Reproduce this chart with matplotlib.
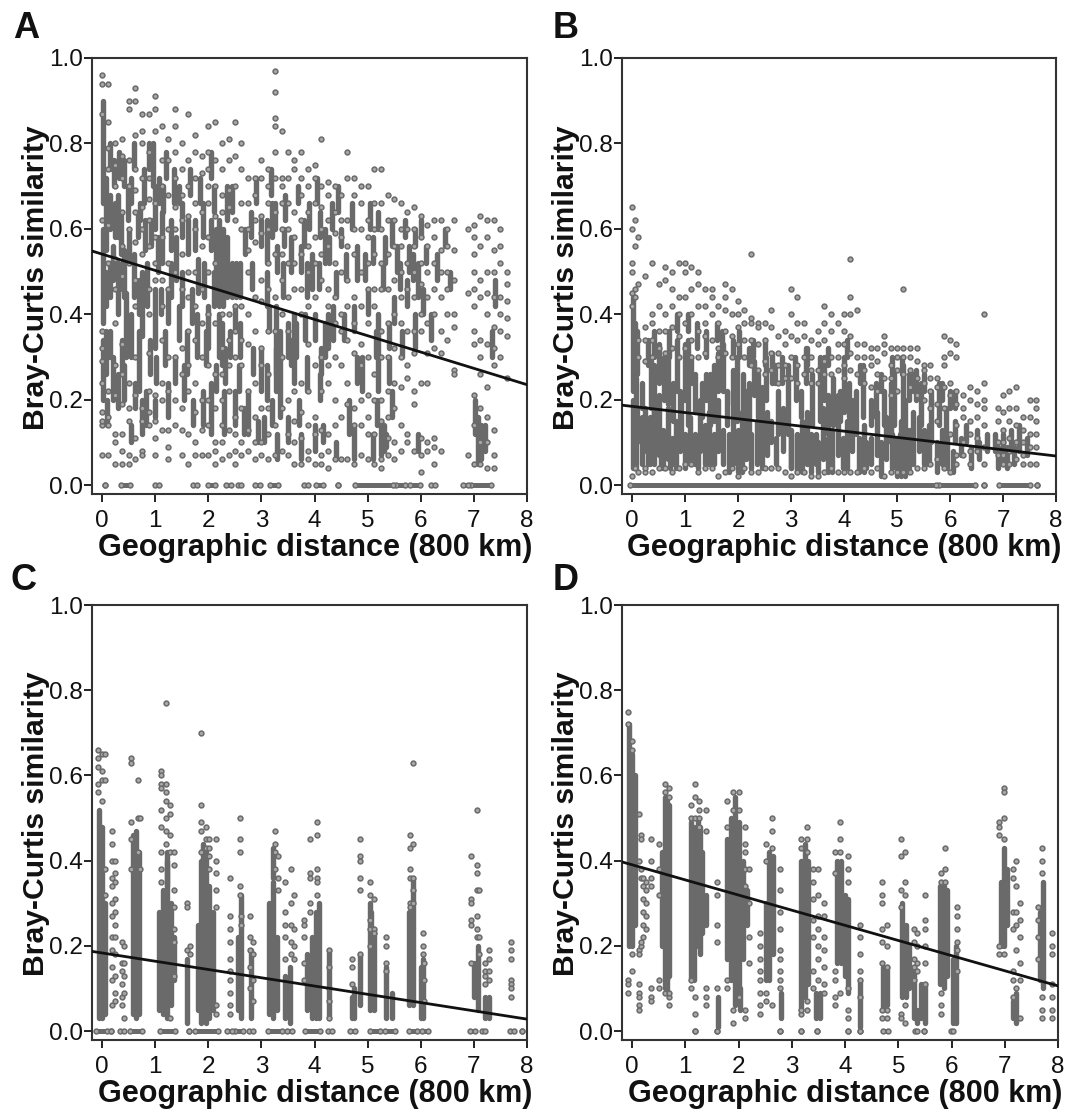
import matplotlib
matplotlib.use('Agg')
import matplotlib.pyplot as plt

plt.rcParams['font.family'] = ['Liberation Sans', 'DejaVu Sans']

# Painel A: colunas de pontos
a_cols_x = [0.0, 0.12, 0.25, 0.38, 0.5, 0.62, 0.75, 0.88, 1.0, 1.12, 1.25, 1.38, 1.5, 1.62, 1.75, 1.88, 2.0, 2.12, 2.25, 2.38,
            2.5, 2.62, 2.75, 2.88, 3.0, 3.12, 3.25, 3.38, 3.5, 3.62, 3.75, 3.88, 4.0, 4.12, 4.25, 4.38, 4.5, 4.62, 4.75, 4.88,
            5.0, 5.12, 5.25, 5.38, 5.5, 5.62, 5.75, 5.88, 6.0, 6.12, 6.25, 6.38, 6.5, 6.62, 6.88, 7.0, 7.12, 7.25, 7.38, 7.5, 7.62]
a_cols_y = [
    [0.96, 0.94, 0.87, 0.62, 0.36, 0.32, 0.17, 0.14, 0.07, 0.15, 0.24, 0.29],
    [0.94, 0.85, 0.79, 0.74, 0.61, 0.52, 0.22, 0.16, 0.07, 0.14],
    [0.80, 0.75, 0.70, 0.53, 0.46, 0.38, 0.28, 0.21, 0.12, 0.05, 0.10],
    [0.81, 0.77, 0.72, 0.64, 0.56, 0.49, 0.33, 0.26, 0.19, 0.12, 0.08, 0.05],
    [0.90, 0.88, 0.76, 0.70, 0.60, 0.52, 0.24, 0.18, 0.15, 0.07, 0.05],
    [0.93, 0.90, 0.82, 0.74, 0.69, 0.64, 0.57, 0.48, 0.42, 0.30, 0.21, 0.11, 0.06],
    [0.87, 0.83, 0.80, 0.72, 0.65, 0.60, 0.54, 0.18, 0.15, 0.08, 0.07],
    [0.87, 0.78, 0.72, 0.67, 0.62, 0.56, 0.46, 0.40, 0.31, 0.22, 0.17, 0.14],
    [0.91, 0.88, 0.83, 0.66, 0.58, 0.52, 0.48, 0.21, 0.15, 0.11, 0.07],
    [0.84, 0.76, 0.70, 0.58, 0.48, 0.42, 0.34, 0.24, 0.20, 0.13],
    [0.81, 0.76, 0.68, 0.60, 0.52, 0.46, 0.30, 0.22, 0.13, 0.09, 0.06],
    [0.88, 0.84, 0.78, 0.72, 0.65, 0.60, 0.50, 0.30, 0.20, 0.14],
    [0.80, 0.74, 0.68, 0.62, 0.54, 0.46, 0.32, 0.26, 0.18, 0.13, 0.07],
    [0.87, 0.76, 0.70, 0.63, 0.50, 0.44, 0.36, 0.28, 0.22, 0.12, 0.05],
    [0.82, 0.78, 0.72, 0.66, 0.60, 0.50, 0.42, 0.34, 0.24, 0.17, 0.10, 0.07],
    [0.77, 0.73, 0.64, 0.56, 0.46, 0.38, 0.30, 0.20, 0.13, 0.07],
    [0.84, 0.78, 0.74, 0.70, 0.66, 0.58, 0.50, 0.40, 0.28, 0.20, 0.14, 0.07],
    [0.85, 0.76, 0.70, 0.63, 0.52, 0.38, 0.26, 0.18, 0.10, 0.08, 0.05],
    [0.80, 0.74, 0.68, 0.64, 0.40, 0.32, 0.26, 0.20, 0.14, 0.10, 0.06],
    [0.81, 0.76, 0.69, 0.65, 0.40, 0.34, 0.28, 0.22, 0.13, 0.07],
    [0.85, 0.77, 0.70, 0.62, 0.42, 0.36, 0.30, 0.16, 0.12, 0.08, 0.05],
    [0.80, 0.74, 0.66, 0.60, 0.42, 0.34, 0.28, 0.18, 0.10, 0.07],
    [0.72, 0.66, 0.60, 0.55, 0.50, 0.40, 0.33, 0.22, 0.13, 0.08],
    [0.72, 0.68, 0.62, 0.57, 0.44, 0.36, 0.24, 0.16, 0.10, 0.06],
    [0.76, 0.72, 0.63, 0.59, 0.48, 0.43, 0.32, 0.28, 0.18, 0.10, 0.07],
    [0.74, 0.70, 0.66, 0.60, 0.52, 0.46, 0.36, 0.26, 0.18, 0.12, 0.06],
    [0.97, 0.92, 0.86, 0.84, 0.78, 0.72, 0.64, 0.54, 0.44, 0.36, 0.14, 0.07],
    [0.83, 0.72, 0.70, 0.66, 0.60, 0.54, 0.48, 0.40, 0.30, 0.18, 0.08],
    [0.78, 0.72, 0.66, 0.60, 0.52, 0.44, 0.36, 0.20, 0.12, 0.07],
    [0.76, 0.74, 0.64, 0.58, 0.52, 0.46, 0.22, 0.15, 0.10, 0.05],
    [0.78, 0.72, 0.68, 0.62, 0.54, 0.46, 0.40, 0.24, 0.17, 0.11, 0.05],
    [0.74, 0.70, 0.64, 0.56, 0.50, 0.42, 0.33, 0.22, 0.14, 0.08, 0.06],
    [0.75, 0.72, 0.66, 0.58, 0.52, 0.44, 0.28, 0.16, 0.12, 0.05],
    [0.81, 0.70, 0.65, 0.60, 0.54, 0.48, 0.30, 0.22, 0.13, 0.07, 0.05],
    [0.71, 0.68, 0.62, 0.56, 0.46, 0.42, 0.28, 0.24, 0.12, 0.08, 0.04],
    [0.70, 0.64, 0.59, 0.52, 0.44, 0.38, 0.30, 0.20, 0.14, 0.06],
    [0.68, 0.62, 0.58, 0.50, 0.40, 0.36, 0.28, 0.16, 0.06],
    [0.78, 0.72, 0.62, 0.56, 0.48, 0.42, 0.34, 0.24, 0.19, 0.06],
    [0.72, 0.68, 0.60, 0.54, 0.44, 0.38, 0.31, 0.18, 0.14, 0.05],
    [0.70, 0.66, 0.60, 0.50, 0.42, 0.33, 0.28, 0.20, 0.14, 0.07],
    [0.70, 0.62, 0.58, 0.52, 0.46, 0.38, 0.30, 0.21, 0.16, 0.12, 0.06],
    [0.74, 0.66, 0.60, 0.54, 0.46, 0.42, 0.26, 0.20, 0.12, 0.05],
    [0.74, 0.66, 0.60, 0.52, 0.46, 0.36, 0.30, 0.20, 0.15, 0.06, 0.04],
    [0.68, 0.62, 0.54, 0.46, 0.38, 0.30, 0.22, 0.16, 0.11, 0.07],
    [0.67, 0.62, 0.56, 0.48, 0.40, 0.32, 0.24, 0.18, 0.10, 0.06],
    [0.66, 0.60, 0.56, 0.50, 0.44, 0.38, 0.30, 0.23, 0.14, 0.08],
    [0.64, 0.60, 0.52, 0.46, 0.36, 0.28, 0.25, 0.12, 0.10],
    [0.65, 0.60, 0.56, 0.50, 0.44, 0.36, 0.31, 0.22, 0.19, 0.08],
    [0.63, 0.58, 0.52, 0.47, 0.40, 0.36, 0.24, 0.11, 0.07, 0.03],
    [0.61, 0.56, 0.50, 0.44, 0.38, 0.31, 0.24, 0.10, 0.08],
    [0.62, 0.58, 0.52, 0.46, 0.40, 0.32, 0.11, 0.09, 0.05],
    [0.62, 0.55, 0.50, 0.44, 0.36, 0.31, 0.08],
    [0.60, 0.56, 0.50, 0.46, 0.40, 0.34],
    [0.62, 0.55, 0.48, 0.40, 0.37, 0.27, 0.26],
    [0.60, 0.45, 0.07],
    [0.61, 0.58, 0.54, 0.50, 0.46, 0.42, 0.36, 0.33, 0.21, 0.14, 0.05],
    [0.63, 0.56, 0.48, 0.44, 0.34, 0.30, 0.26, 0.18, 0.10, 0.05],
    [0.62, 0.58, 0.50, 0.45, 0.40, 0.33, 0.23, 0.16, 0.10, 0.04],
    [0.62, 0.55, 0.50, 0.44, 0.37, 0.32, 0.28, 0.13, 0.07, 0.04],
    [0.60, 0.56, 0.52, 0.44, 0.40, 0.36, 0.30],
    [0.50, 0.47, 0.43, 0.39, 0.35, 0.25],
]
a_band_x = [0.02, 0.02, 0.02, 0.08, 0.08, 0.08, 0.15, 0.25, 0.3, 0.35, 0.3, 0.3, 0.42, 0.45, 0.48, 0.42, 0.62, 0.7, 0.75, 0.72,
            0.8, 0.82, 0.95, 1.0, 1.0, 1.02, 1.12, 1.15, 1.25, 1.3, 1.4, 1.45, 1.5, 1.55, 1.7, 1.75, 1.8, 1.85, 1.95, 2.0,
            2.05, 2.05, 2.1, 2.15, 2.2, 2.28, 2.36, 2.44, 2.52, 2.6, 2.1, 2.35, 2.2, 2.75, 2.93, 3.0, 3.28, 3.35, 3.62, 3.66,
            4.2, 4.25, 5.2, 5.25, 5.3, 5.35, 5.9, 7.08, 7.14, 3.25, 3.28, 4.8, 4.28, 5.0, 5.78, 5.95, 3.85,
            0.14, 0.14, 0.14, 0.2, 0.22, 0.2, 0.32, 0.38, 0.38, 0.42, 0.5, 0.55, 0.55, 0.6, 0.6, 0.68, 0.7, 0.78, 0.75, 0.85,
            0.88, 0.9, 0.92, 1.05, 1.08, 1.1, 1.18, 1.2, 1.3, 1.35, 1.38, 1.45, 1.5, 1.6, 1.62, 1.65, 1.78, 1.9, 1.92, 1.9,
            2.05, 2.25, 2.3, 2.4, 2.45, 2.5, 2.6, 2.8, 2.85, 3.05, 3.1, 3.2, 3.15, 3.4, 3.45, 3.5, 3.55, 3.7, 3.75, 3.9,
            4.0, 4.08, 4.1, 4.15, 4.32, 4.4, 4.5, 4.55, 4.65, 4.9, 5.1, 5.18, 5.28, 5.4, 5.45, 5.45, 5.6, 5.7, 5.85, 6.0, 6.05,
            2.7, 2.82, 2.9, 3.0, 3.1, 3.18, 3.3, 3.42, 3.5, 3.55, 3.68, 3.8, 3.82, 3.95, 4.05, 4.12, 4.2, 4.35, 4.45, 4.6,
            4.7, 4.75, 4.95, 5.05, 5.2, 5.32, 5.5, 5.55, 5.65, 5.75, 5.9, 6.1, 6.2, 6.3, 6.45, 6.55,
            0.1, 0.55, 1.0, 1.25, 1.72, 2.15, 2.32, 2.5, 2.58, 2.68, 3.1, 3.2, 3.3, 3.75, 3.85, 4.0, 4.1, 4.4, 4.75, 4.8,
            5.1, 5.15, 5.4, 5.95, 7.2, 7.02, 7.4, 7.35]
a_band_lo = [0.66, 0.38, 0.20, 0.55, 0.42, 0.26, 0.60, 0.58, 0.58, 0.54, 0.40, 0.18, 0.44, 0.30, 0.62, 0.20, 0.18, 0.22, 0.35, 0.62,
             0.55, 0.14, 0.70, 0.60, 0.32, 0.24, 0.52, 0.64, 0.38, 0.55, 0.48, 0.34, 0.58, 0.20, 0.38, 0.55, 0.45, 0.66, 0.28, 0.32,
             0.12, 0.55, 0.42, 0.45, 0.42, 0.42, 0.44, 0.44, 0.44, 0.44, 0.64, 0.62, 0.30, 0.12, 0.10, 0.22, 0.22, 0.16, 0.24, 0.30,
             0.30, 0.32, 0.22, 0.07, 0.08, 0.09, 0.32, 0.05, 0.06, 0.60, 0.26, 0.48, 0.52, 0.40, 0.50, 0.44, 0.44,
             0.74, 0.44, 0.30, 0.48, 0.70, 0.20, 0.72, 0.46, 0.26, 0.70, 0.52, 0.66, 0.30, 0.44, 0.74, 0.58, 0.40, 0.66, 0.12, 0.42,
             0.74, 0.26, 0.56, 0.50, 0.66, 0.40, 0.28, 0.72, 0.44, 0.66, 0.24, 0.66, 0.42, 0.26, 0.54, 0.68, 0.30, 0.58, 0.44, 0.14,
             0.72, 0.28, 0.12, 0.30, 0.64, 0.36, 0.30, 0.58, 0.26, 0.10, 0.52, 0.58, 0.36, 0.44, 0.62, 0.10, 0.28, 0.14, 0.50, 0.60,
             0.34, 0.46, 0.58, 0.10, 0.60, 0.44, 0.56, 0.34, 0.12, 0.22, 0.52, 0.14, 0.46, 0.32, 0.56, 0.16, 0.46, 0.58, 0.48, 0.58, 0.40,
             0.54, 0.46, 0.66, 0.56, 0.42, 0.68, 0.50, 0.56, 0.30, 0.50, 0.66, 0.56, 0.34, 0.46, 0.66, 0.26, 0.52, 0.34, 0.64, 0.48,
             0.60, 0.36, 0.48, 0.60, 0.60, 0.52, 0.38, 0.50, 0.30, 0.42, 0.56, 0.52, 0.34, 0.48, 0.56, 0.46,
             0.14, 0.10, 0.16, 0.16, 0.14, 0.22, 0.24, 0.14, 0.22, 0.12, 0.20, 0.14, 0.06, 0.06, 0.22, 0.08, 0.20, 0.06, 0.06, 0.24,
             0.06, 0.30, 0.24, 0.08, 0.08, 0.12, 0.42, 0.30]
a_band_hi = [0.90, 0.60, 0.34, 0.72, 0.50, 0.36, 0.68, 0.66, 0.68, 0.64, 0.52, 0.26, 0.55, 0.45, 0.70, 0.28, 0.24, 0.36, 0.50, 0.66,
             0.62, 0.22, 0.80, 0.70, 0.46, 0.30, 0.64, 0.70, 0.46, 0.62, 0.58, 0.42, 0.66, 0.28, 0.46, 0.62, 0.53, 0.72, 0.36, 0.42,
             0.24, 0.62, 0.50, 0.60, 0.62, 0.60, 0.58, 0.52, 0.52, 0.52, 0.70, 0.70, 0.40, 0.22, 0.15, 0.32, 0.42, 0.36, 0.40, 0.38,
             0.38, 0.40, 0.40, 0.15, 0.14, 0.12, 0.40, 0.16, 0.14, 0.66, 0.32, 0.56, 0.58, 0.46, 0.56, 0.52, 0.52,
             0.80, 0.52, 0.36, 0.56, 0.76, 0.30, 0.78, 0.52, 0.34, 0.76, 0.60, 0.72, 0.40, 0.54, 0.80, 0.64, 0.48, 0.74, 0.20, 0.52,
             0.80, 0.34, 0.62, 0.58, 0.72, 0.46, 0.36, 0.78, 0.52, 0.74, 0.30, 0.70, 0.50, 0.36, 0.62, 0.74, 0.40, 0.66, 0.52, 0.22,
             0.78, 0.38, 0.22, 0.36, 0.70, 0.42, 0.38, 0.64, 0.32, 0.16, 0.62, 0.66, 0.42, 0.52, 0.68, 0.16, 0.34, 0.20, 0.56, 0.66,
             0.40, 0.52, 0.64, 0.14, 0.66, 0.50, 0.60, 0.40, 0.20, 0.30, 0.58, 0.20, 0.52, 0.38, 0.62, 0.22, 0.52, 0.62, 0.54, 0.62, 0.46,
             0.60, 0.52, 0.72, 0.62, 0.50, 0.74, 0.56, 0.60, 0.38, 0.58, 0.70, 0.62, 0.40, 0.54, 0.72, 0.32, 0.60, 0.42, 0.70, 0.54,
             0.66, 0.42, 0.54, 0.66, 0.64, 0.58, 0.44, 0.56, 0.36, 0.48, 0.60, 0.56, 0.40, 0.54, 0.60, 0.50,
             0.20, 0.14, 0.20, 0.24, 0.20, 0.28, 0.32, 0.22, 0.28, 0.18, 0.28, 0.20, 0.12, 0.12, 0.30, 0.14, 0.26, 0.10, 0.14, 0.30,
             0.12, 0.36, 0.30, 0.12, 0.14, 0.20, 0.48, 0.36]
a_zero_lo = [0.05, 0.36, 0.99, 1.71, 2.0, 2.34, 2.56, 2.87, 3.16, 3.81, 4.03, 4.44, 4.76, 5.54, 5.79, 6.2, 6.79, 6.95]
a_zero_hi = [0.05, 0.52, 1.08, 1.78, 2.12, 2.43, 2.62, 2.97, 3.31, 3.88, 4.16, 4.44, 5.48, 5.7, 5.98, 6.26, 6.89, 7.33]
a_line = [0.548, 0.235]

# Painel B
b_cols_x = [0.0, 0.05, 0.12, 0.25, 0.38, 0.5, 0.62, 0.75, 0.88, 1.0, 1.12, 1.25, 1.38, 1.5, 1.62, 1.75, 1.88, 2.0, 2.12, 2.25,
            2.38, 2.5, 2.62, 2.75, 2.88, 3.0, 3.12, 3.25, 3.38, 3.5, 3.62, 3.75, 3.88, 4.0, 4.12, 4.25, 4.38, 4.5, 4.62, 4.75,
            4.88, 5.0, 5.12, 5.25, 5.38, 5.5, 5.62, 5.75, 5.88, 6.0, 6.12, 6.25, 6.38, 6.5, 6.65, 6.9, 7.0, 7.12, 7.25, 7.38, 7.5, 7.62]
b_cols_y = [
    [0.65, 0.60, 0.52, 0.50, 0.45, 0.42, 0.02],
    [0.62, 0.56, 0.46, 0.44, 0.04],
    [0.58, 0.47, 0.34, 0.30, 0.03],
    [0.49, 0.37, 0.34, 0.29, 0.03, 0.04],
    [0.52, 0.40, 0.38, 0.34, 0.30, 0.03],
    [0.47, 0.42, 0.36, 0.32, 0.04],
    [0.51, 0.48, 0.40, 0.36, 0.31, 0.04],
    [0.50, 0.46, 0.42, 0.37, 0.32, 0.03],
    [0.52, 0.44, 0.40, 0.35, 0.30, 0.04],
    [0.52, 0.50, 0.44, 0.38, 0.32, 0.05],
    [0.51, 0.46, 0.40, 0.34, 0.30, 0.05],
    [0.50, 0.47, 0.42, 0.36, 0.30, 0.03],
    [0.46, 0.42, 0.38, 0.35, 0.31, 0.04],
    [0.46, 0.44, 0.40, 0.34, 0.04],
    [0.42, 0.38, 0.32, 0.30, 0.02],
    [0.47, 0.44, 0.41, 0.36, 0.31, 0.03],
    [0.46, 0.40, 0.35, 0.30, 0.04],
    [0.43, 0.40, 0.37, 0.33, 0.02],
    [0.41, 0.38, 0.34, 0.30, 0.04],
    [0.54, 0.39, 0.38, 0.34, 0.28, 0.03],
    [0.38, 0.37, 0.33, 0.27, 0.03],
    [0.38, 0.34, 0.29, 0.26, 0.04],
    [0.41, 0.37, 0.31, 0.27, 0.04],
    [0.35, 0.31, 0.28, 0.24, 0.04],
    [0.36, 0.33, 0.28, 0.25, 0.03],
    [0.46, 0.40, 0.35, 0.30, 0.25, 0.02],
    [0.44, 0.38, 0.34, 0.28, 0.24, 0.03],
    [0.38, 0.35, 0.30, 0.26, 0.03],
    [0.34, 0.30, 0.27, 0.24, 0.02],
    [0.36, 0.33, 0.27, 0.24, 0.02],
    [0.42, 0.38, 0.34, 0.29, 0.26, 0.03],
    [0.40, 0.36, 0.30, 0.26, 0.04],
    [0.38, 0.33, 0.30, 0.27, 0.03],
    [0.40, 0.36, 0.33, 0.28, 0.25, 0.03],
    [0.53, 0.44, 0.40, 0.35, 0.31, 0.27, 0.03],
    [0.41, 0.33, 0.30, 0.26, 0.03],
    [0.33, 0.30, 0.27, 0.24, 0.04],
    [0.32, 0.30, 0.28, 0.23, 0.03],
    [0.32, 0.29, 0.26, 0.22, 0.04],
    [0.35, 0.33, 0.31, 0.25, 0.02],
    [0.32, 0.28, 0.25, 0.21, 0.03],
    [0.32, 0.30, 0.27, 0.22, 0.03],
    [0.46, 0.32, 0.30, 0.26, 0.03],
    [0.32, 0.30, 0.27, 0.23, 0.03],
    [0.32, 0.29, 0.25, 0.21, 0.04],
    [0.28, 0.27, 0.24, 0.20, 0.04],
    [0.28, 0.25, 0.22, 0.18, 0.05],
    [0.25, 0.23, 0.19, 0.15, 0.06],
    [0.35, 0.30, 0.28, 0.23, 0.18, 0.04],
    [0.34, 0.31, 0.24, 0.21, 0.12, 0.03],
    [0.33, 0.30, 0.22, 0.19, 0.14, 0.07, 0.05],
    [0.21, 0.18, 0.16, 0.10, 0.07],
    [0.23, 0.20, 0.15, 0.12, 0.08, 0.05],
    [0.22, 0.19, 0.16, 0.11, 0.08],
    [0.40, 0.24, 0.20, 0.18, 0.14, 0.09, 0.05],
    [0.18, 0.15, 0.10, 0.07],
    [0.21, 0.17, 0.13, 0.10, 0.07, 0.05],
    [0.22, 0.18, 0.15, 0.11, 0.08, 0.05],
    [0.23, 0.18, 0.14, 0.10, 0.06],
    [0.16, 0.13, 0.10, 0.07, 0.05],
    [0.20, 0.16, 0.12, 0.09, 0.05],
    [0.20, 0.18, 0.15, 0.12, 0.09, 0.05],
]
b_band_x = [0.02, 0.08, 0.18, 0.25, 0.33, 0.42, 0.5, 0.58, 0.68, 0.75, 0.82, 0.9, 1.0, 1.1, 1.18, 1.28, 1.38, 1.45, 1.55, 1.63,
            1.72, 1.82, 1.9, 2.0, 2.08, 2.15, 2.25, 2.35, 2.45, 2.55, 2.62, 2.72, 2.85, 3.0, 3.12, 3.2, 3.3, 3.38, 3.5, 3.6,
            3.7, 3.78, 3.88, 3.98, 4.05, 4.15, 4.28, 4.38, 4.5, 4.62, 4.7, 4.8, 4.9, 5.0, 5.08, 5.15, 5.22, 5.3, 5.42, 5.5,
            5.6, 5.75, 5.85, 5.95, 6.05, 6.2, 6.4, 6.55, 6.9, 7.0, 7.08, 7.2,
            0.02, 0.1, 0.3, 0.42, 0.6, 0.72, 0.85, 1.0, 1.12, 1.25, 1.4, 1.55, 1.72, 1.9, 2.1, 2.3, 2.45, 2.65, 3.1, 3.28, 3.55, 3.7, 4.0, 4.5, 4.88, 5.12, 5.35, 5.65, 6.0,
            0.1, 0.18, 0.22, 0.36, 0.5, 0.55, 0.68, 0.78, 0.92, 1.05, 1.18, 1.32, 1.48, 1.62, 1.8, 1.98, 2.05, 2.2, 2.38, 2.52,
            2.75, 2.95, 3.0, 3.18, 3.4, 3.48, 3.62, 3.8, 3.92, 4.1, 4.22, 4.35, 4.42, 4.6, 4.75, 4.95, 5.05, 5.22, 5.45, 5.58, 5.8, 5.92,
            6.1, 6.3, 6.5, 6.7, 6.85, 7.15, 7.3, 7.45, 0.05, 0.3, 0.42, 0.7, 0.85, 1.05, 1.22, 1.4, 1.6, 1.7, 1.9, 2.02,
            2.2, 2.28, 2.5, 2.7, 2.82, 3.08, 3.3, 3.55, 3.7, 4.0, 4.05, 4.3, 4.7, 4.9, 5.1, 5.3, 5.5, 5.65, 5.85, 6.1]
b_band_lo = [0.22, 0.04, 0.05, 0.10, 0.05, 0.05, 0.07, 0.04, 0.06, 0.05, 0.04, 0.08, 0.04, 0.05, 0.05, 0.08, 0.05, 0.05, 0.05, 0.08,
             0.05, 0.03, 0.05, 0.03, 0.03, 0.06, 0.04, 0.05, 0.04, 0.07, 0.10, 0.05, 0.08, 0.04, 0.03, 0.03, 0.05, 0.03, 0.03, 0.06,
             0.03, 0.03, 0.07, 0.04, 0.04, 0.08, 0.03, 0.03, 0.05, 0.07, 0.02, 0.06, 0.04, 0.02, 0.02, 0.02, 0.03, 0.05, 0.08, 0.05,
             0.05, 0.03, 0.05, 0.04, 0.03, 0.07, 0.04, 0.06, 0.04, 0.05, 0.04, 0.05,
             0.04, 0.10, 0.05, 0.14, 0.20, 0.04, 0.22, 0.20, 0.24, 0.04, 0.20, 0.15, 0.22, 0.19, 0.14, 0.21, 0.10, 0.24, 0.20, 0.24, 0.15, 0.12, 0.17, 0.14, 0.10, 0.12, 0.20, 0.10, 0.18,
             0.26, 0.18, 0.08, 0.18, 0.24, 0.04, 0.19, 0.15, 0.10, 0.14, 0.17, 0.16, 0.14, 0.22, 0.14, 0.15, 0.04, 0.12, 0.16, 0.20,
             0.12, 0.12, 0.04, 0.16, 0.14, 0.05, 0.20, 0.14, 0.15, 0.16, 0.12, 0.16, 0.04, 0.16, 0.14, 0.14, 0.04, 0.20, 0.14, 0.05, 0.14, 0.10,
             0.10, 0.10, 0.08, 0.08, 0.08, 0.08, 0.08, 0.07, 0.30, 0.28, 0.30, 0.30, 0.36, 0.36, 0.32, 0.30, 0.34, 0.30, 0.30, 0.30,
             0.28, 0.30, 0.28, 0.24, 0.24, 0.26, 0.28, 0.26, 0.28, 0.26, 0.30, 0.24, 0.22, 0.26, 0.26, 0.22, 0.22, 0.18, 0.20, 0.18]
b_band_hi = [0.44, 0.25, 0.16, 0.18, 0.16, 0.19, 0.21, 0.13, 0.18, 0.11, 0.15, 0.22, 0.12, 0.16, 0.12, 0.20, 0.14, 0.17, 0.12, 0.20,
             0.13, 0.12, 0.22, 0.13, 0.17, 0.22, 0.12, 0.15, 0.17, 0.17, 0.15, 0.11, 0.18, 0.13, 0.12, 0.15, 0.17, 0.12, 0.10, 0.18,
             0.11, 0.13, 0.21, 0.11, 0.15, 0.20, 0.11, 0.14, 0.11, 0.17, 0.10, 0.16, 0.12, 0.11, 0.15, 0.20, 0.13, 0.17, 0.16, 0.13,
             0.14, 0.10, 0.13, 0.11, 0.08, 0.11, 0.09, 0.10, 0.09, 0.12, 0.09, 0.09,
             0.20, 0.18, 0.10, 0.28, 0.30, 0.10, 0.34, 0.33, 0.30, 0.10, 0.26, 0.28, 0.33, 0.27, 0.26, 0.29, 0.23, 0.31, 0.28, 0.32, 0.26, 0.21, 0.27, 0.20, 0.24, 0.28, 0.27, 0.20, 0.22,
             0.36, 0.24, 0.14, 0.29, 0.33, 0.10, 0.30, 0.24, 0.20, 0.34, 0.26, 0.24, 0.26, 0.31, 0.22, 0.30, 0.12, 0.24, 0.26, 0.30,
             0.22, 0.28, 0.12, 0.22, 0.26, 0.12, 0.30, 0.25, 0.22, 0.24, 0.22, 0.28, 0.10, 0.24, 0.22, 0.26, 0.12, 0.26, 0.24, 0.12, 0.24, 0.18,
             0.15, 0.14, 0.13, 0.12, 0.12, 0.13, 0.14, 0.11, 0.38, 0.34, 0.36, 0.36, 0.40, 0.40, 0.38, 0.36, 0.38, 0.36, 0.34, 0.36,
             0.32, 0.34, 0.34, 0.28, 0.30, 0.30, 0.32, 0.30, 0.32, 0.30, 0.34, 0.28, 0.26, 0.30, 0.30, 0.26, 0.26, 0.22, 0.24, 0.22]
b_zero_lo = [-0.04, 5.79, 6.65, 6.92, 7.64]
b_zero_hi = [5.73, 6.48, 6.65, 7.5, 7.64]
b_line = [0.187, 0.068]

# Painel C
c_cols_x = [-0.08, 0.0, 0.05, 0.18, 0.24, 0.38, 0.42, 0.55, 0.68, 0.72, 1.1, 1.2, 1.28, 1.36, 1.6, 1.65, 1.87, 1.95, 2.02, 2.15,
            2.4, 2.6, 2.62, 2.78, 2.85, 3.25, 3.32, 3.45, 3.55, 3.62, 3.8, 3.92, 4.05, 4.28, 4.7, 4.85, 5.05, 5.12, 5.35,
            5.8, 5.85, 6.05, 6.07, 6.95, 7.05, 7.1, 7.2, 7.28, 7.7]
c_cols_y = [
    [0.66, 0.64, 0.62, 0.58, 0.56],
    [0.65, 0.61, 0.59, 0.54],
    [0.65, 0.59, 0.38, 0.32],
    [0.47, 0.44, 0.40, 0.36, 0.34, 0.30, 0.27, 0.22, 0.19, 0.15, 0.12, 0.06],
    [0.40, 0.37, 0.35, 0.31, 0.28, 0.25, 0.22, 0.18, 0.13, 0.09, 0.07],
    [0.21, 0.16, 0.14, 0.11, 0.08, 0.06],
    [0.20, 0.16, 0.13, 0.09, 0.03],
    [0.64, 0.63, 0.49, 0.45, 0.38],
    [0.59, 0.50, 0.42],
    [0.50, 0.38],
    [0.61, 0.60, 0.58, 0.57, 0.52, 0.48, 0.42, 0.38, 0.35],
    [0.77, 0.58, 0.56, 0.54, 0.50, 0.47, 0.44],
    [0.53, 0.51, 0.46, 0.42, 0.03],
    [0.42, 0.39, 0.33, 0.29, 0.24, 0.21, 0.13],
    [0.30, 0.29, 0.19],
    [0.20, 0.18],
    [0.70, 0.53, 0.49, 0.47, 0.42],
    [0.48, 0.45, 0.43],
    [0.45, 0.43, 0.41, 0.38],
    [0.45, 0.40, 0.37, 0.33, 0.29, 0.06, 0.04],
    [0.36, 0.27, 0.24, 0.21, 0.17, 0.14, 0.12, 0.09, 0.06, 0.04],
    [0.50, 0.45, 0.42, 0.34, 0.32],
    [0.27, 0.25],
    [0.27, 0.22, 0.19, 0.15, 0.10],
    [0.21, 0.18, 0.12, 0.07],
    [0.47, 0.44, 0.42, 0.38],
    [0.41, 0.36, 0.33],
    [0.35, 0.28, 0.25, 0.22, 0.17],
    [0.38, 0.30, 0.25, 0.21, 0.18],
    [0.32, 0.24, 0.20, 0.17],
    [0.26, 0.25, 0.22, 0.16, 0.12],
    [0.45, 0.37, 0.36, 0.30, 0.28],
    [0.46, 0.49, 0.38, 0.36, 0.35, 0.32],
    [0.19, 0.15, 0.10, 0.07, 0.03],
    [0.17, 0.15, 0.11],
    [0.45, 0.41, 0.40, 0.36, 0.33, 0.18],
    [0.35, 0.32, 0.26, 0.24, 0.20],
    [0.31, 0.24, 0.23],
    [0.22, 0.20, 0.16, 0.14],
    [0.46, 0.43, 0.38, 0.36, 0.30, 0.29],
    [0.63, 0.44, 0.36, 0.33, 0.30],
    [0.23, 0.20, 0.18],
    [0.16, 0.12, 0.07],
    [0.41, 0.31, 0.30, 0.26, 0.25, 0.16],
    [0.52, 0.39, 0.37, 0.33, 0.27, 0.24, 0.22],
    [0.33, 0.22, 0.18],
    [0.16, 0.14, 0.13, 0.11],
    [0.19, 0.17, 0.14, 0.12],
    [0.21, 0.19, 0.17, 0.12, 0.11, 0.10, 0.08],
]
c_band_x = [-0.06, 0.0, 0.05, 0.58, 0.64, 0.7, 1.08, 1.15, 1.22, 1.3, 1.36, 1.6, 1.8, 1.87, 1.95, 2.02, 2.08, 2.55, 2.62, 2.8,
            3.15, 3.22, 3.3, 3.45, 3.53, 3.85, 3.95, 4.03, 4.08, 4.28, 4.7, 4.75, 4.85, 5.05, 5.12, 5.35, 5.45, 5.78, 5.85, 6.0, 6.05,
            7.0, 7.08, 7.2, 7.28, 1.22, 3.22, 1.9, 5.07]
c_band_lo = [0.03, 0.03, 0.04, 0.04, 0.03, 0.04, 0.05, 0.04, 0.03, 0.06, 0.12, 0.02, 0.05, 0.02, 0.02, 0.03, 0.05, 0.05, 0.03, 0.03,
             0.04, 0.03, 0.05, 0.03, 0.02, 0.05, 0.03, 0.03, 0.03, 0.03, 0.03, 0.03, 0.06, 0.05, 0.05, 0.03, 0.03, 0.06, 0.06, 0.03, 0.03,
             0.08, 0.05, 0.03, 0.03, 0.34, 0.36, 0.36, 0.22]
c_band_hi = [0.52, 0.48, 0.30, 0.46, 0.47, 0.42, 0.28, 0.33, 0.40, 0.30, 0.22, 0.17, 0.25, 0.40, 0.42, 0.34, 0.28, 0.22, 0.32, 0.19,
             0.30, 0.35, 0.22, 0.13, 0.15, 0.18, 0.22, 0.28, 0.30, 0.19, 0.08, 0.10, 0.18, 0.30, 0.24, 0.15, 0.09, 0.28, 0.36, 0.15, 0.17,
             0.16, 0.20, 0.08, 0.08, 0.42, 0.43, 0.44, 0.28]
c_zero_lo = [-0.12, 0.16, 0.34, 0.53, 1.09, 1.63, 1.75, 2.35, 2.51, 2.76, 3.13, 3.48, 3.82, 4.26, 4.67, 5.05, 5.33, 5.77, 6.02, 6.92, 7.15, 7.68, 7.9]
c_zero_hi = [0.09, 0.16, 0.41, 0.75, 1.38, 1.63, 2.19, 2.45, 2.66, 2.85, 3.38, 3.57, 4.1, 4.32, 4.76, 5.23, 5.52, 5.92, 6.14, 7.02, 7.21, 7.75, 7.9]
c_line = [0.187, 0.028]

# Painel D
d_cols_x = [-0.08, 0.0, 0.12, 0.16, 0.2, 0.26, 0.36, 0.5, 0.62, 0.7, 1.1, 1.18, 1.25, 1.38, 1.6, 1.78, 1.9, 2.0, 2.12, 2.2,
            2.4, 2.52, 2.62, 2.78, 3.17, 3.28, 3.4, 3.5, 3.6, 3.82, 3.9, 4.05, 4.28, 4.7, 4.78, 5.05, 5.12, 5.3, 5.36, 5.5,
            5.8, 5.88, 6.1, 6.9, 6.98, 7.15, 7.22, 7.28, 7.62, 7.7, 7.88]
d_cols_y = [
    [0.75, 0.72, 0.12, 0.11, 0.09],
    [0.68, 0.66, 0.18, 0.14],
    [0.51, 0.40, 0.19, 0.18, 0.11, 0.09, 0.08, 0.06, 0.05],
    [0.46, 0.45, 0.38, 0.36, 0.20, 0.21],
    [0.36, 0.34, 0.31, 0.28, 0.25, 0.22],
    [0.35, 0.33, 0.30, 0.27, 0.24],
    [0.45, 0.40, 0.36, 0.34, 0.10, 0.08, 0.07],
    [0.44, 0.38, 0.32, 0.12, 0.10],
    [0.58, 0.56, 0.09],
    [0.57, 0.55, 0.08, 0.06, 0.09],
    [0.53, 0.50, 0.12, 0.10],
    [0.58, 0.55, 0.50, 0.08, 0.04],
    [0.54, 0.52, 0.50, 0.48],
    [0.52, 0.47, 0.10, 0.08, 0.06],
    [0.35, 0.32, 0.25, 0.21, 0.10],
    [0.54, 0.48, 0.12, 0.10],
    [0.56, 0.52, 0.05, 0.02],
    [0.56, 0.52, 0.08],
    [0.48, 0.44, 0.42, 0.38, 0.34, 0.05, 0.03],
    [0.38, 0.30, 0.22, 0.16],
    [0.23, 0.20, 0.17, 0.14, 0.12, 0.09, 0.06, 0.04],
    [0.44, 0.40, 0.09, 0.07],
    [0.50, 0.47, 0.43, 0.06],
    [0.38, 0.33, 0.28, 0.24, 0.19, 0.17, 0.14, 0.12, 0.10],
    [0.45, 0.43, 0.04, 0.05],
    [0.48, 0.45, 0.42, 0.07, 0.05],
    [0.38, 0.35, 0.31, 0.26, 0.22, 0.14, 0.10],
    [0.38, 0.32, 0.27, 0.24, 0.20, 0.17, 0.12],
    [0.30, 0.27, 0.22, 0.19, 0.15, 0.11, 0.09],
    [0.42, 0.37, 0.14, 0.12, 0.08, 0.06],
    [0.49, 0.45, 0.42, 0.09],
    [0.41, 0.38, 0.35, 0.10, 0.05, 0.03],
    [0.25, 0.22, 0.18, 0.14, 0.12, 0.08],
    [0.35, 0.32, 0.30, 0.24, 0.21, 0.16, 0.05, 0.03],
    [0.25, 0.20, 0.15, 0.05, 0.03],
    [0.45, 0.41, 0.33, 0.29, 0.04, 0.03],
    [0.42, 0.35, 0.32, 0.06, 0.02],
    [0.24, 0.21, 0.17, 0.15, 0.12],
    [0.23, 0.20, 0.16, 0.14],
    [0.32, 0.26, 0.24, 0.20, 0.16, 0.11],
    [0.37, 0.35, 0.09, 0.06, 0.04],
    [0.43, 0.38, 0.35],
    [0.29, 0.27, 0.24, 0.21, 0.19, 0.14],
    [0.49, 0.48, 0.46, 0.18, 0.20],
    [0.57, 0.56, 0.50, 0.45, 0.18],
    [0.38, 0.36, 0.28, 0.24, 0.14, 0.12, 0.08],
    [0.40, 0.34, 0.28, 0.25, 0.19, 0.10],
    [0.30, 0.26, 0.22, 0.16, 0.12, 0.03],
    [0.29, 0.26, 0.22, 0.17],
    [0.43, 0.40, 0.37, 0.08, 0.05, 0.03],
    [0.23, 0.20, 0.18, 0.11, 0.08, 0.05, 0.03],
]
d_band_x = [-0.06, 0.0, 0.06, 0.56, 0.62, 0.7, 1.1, 1.17, 1.24, 1.32, 1.38, 1.78, 1.85, 1.93, 2.0, 2.08, 2.15, 2.52, 2.58, 2.65,
            3.17, 3.24, 3.31, 3.85, 3.92, 3.99, 4.06, 5.07, 5.14, 5.2, 5.78, 5.85, 5.92, 6.02, 6.08, 6.92, 6.99, 7.05,
            7.15, 7.22, 7.66, 7.72, 1.62, 2.8, 3.45, 3.52, 4.28, 4.72, 4.78, 5.3, 5.35, 5.42, 5.5, 0.65, 2.02, 0.66, 1.14, 1.28]
d_band_lo = [0.20, 0.20, 0.25, 0.20, 0.10, 0.13, 0.12, 0.12, 0.20, 0.23, 0.25, 0.17, 0.12, 0.06, 0.10, 0.17, 0.25, 0.12, 0.12, 0.18,
             0.05, 0.08, 0.11, 0.16, 0.16, 0.13, 0.09, 0.08, 0.08, 0.10, 0.11, 0.10, 0.13, 0.02, 0.02, 0.20, 0.20, 0.25,
             0.03, 0.02, 0.12, 0.10, 0.01, 0.03, 0.03, 0.03, 0.01, 0.05, 0.06, 0.03, 0.02, 0.03, 0.02, 0.09, 0.05, 0.12, 0.14, 0.18]
d_band_hi = [0.72, 0.65, 0.60, 0.42, 0.55, 0.53, 0.49, 0.48, 0.50, 0.42, 0.32, 0.45, 0.50, 0.55, 0.49, 0.40, 0.33, 0.30, 0.42, 0.41,
             0.40, 0.44, 0.40, 0.40, 0.40, 0.32, 0.31, 0.30, 0.25, 0.20, 0.34, 0.34, 0.33, 0.17, 0.20, 0.35, 0.43, 0.38,
             0.07, 0.09, 0.28, 0.35, 0.08, 0.09, 0.09, 0.09, 0.12, 0.15, 0.15, 0.15, 0.05, 0.11, 0.11, 0.14, 0.10, 0.54, 0.46, 0.48]
d_zero_lo = [1.18, 1.59, 2.78, 3.17, 3.47, 4.05, 4.28, 4.71, 5.31, 5.49, 5.99]
d_zero_hi = [1.18, 1.59, 2.78, 3.17, 3.47, 4.05, 4.28, 4.8, 5.36, 5.49, 6.03]
d_line = [0.397, 0.106]

letras = ['A', 'B', 'C', 'D']
y_ticks = [0.0, 0.2, 0.4, 0.6, 0.8, 1.0]
x_ticks = [0, 1, 2, 3, 4, 5, 6, 7, 8]
x_limits = [-0.19, 8]
y_limits = [-0.021, 1.0]

COR = '#6a6a6a'
W, H = 1068, 1112


def painel(box, letra_pos, letra, cols_x, cols_y, band_x, band_lo, band_hi, zero_lo, zero_hi, linha):
    left, top, right, bottom = box
    ax = fig.add_axes([left / W, 1 - bottom / H, (right - left) / W, (bottom - top) / H])
    # faixas densas
    ax.vlines(band_x, band_lo, band_hi, color=COR, lw=3.9, zorder=2, capstyle='round')
    xs, ys = [], []
    for x, col in zip(cols_x, cols_y):
        xs += [x] * len(col)
        ys += col
    ax.scatter(xs, ys, s=12, facecolor='#a8a8a8', edgecolor=COR, linewidths=1.1, zorder=3)
    # linha de zeros
    ax.hlines([0] * len(zero_lo), zero_lo, zero_hi, color=COR, lw=3.6, zorder=2)
    ax.scatter(zero_lo + zero_hi, [0] * (len(zero_lo) + len(zero_hi)), s=12,
               facecolor='#a8a8a8', edgecolor=COR, linewidths=1.1, zorder=3)
    ax.plot(x_limits, linha, color='#111111', lw=2.0, zorder=4)
    ax.set_xlim(x_limits)
    ax.set_ylim(y_limits)
    ax.set_xticks(x_ticks)
    ax.set_yticks(y_ticks)
    ax.set_yticklabels(['%.1f' % v for v in y_ticks])
    ax.tick_params(labelsize=17.5, length=6, width=1.4, color='#222222', labelcolor='#111111')
    ax.tick_params(axis='x', pad=5.5)
    ax.tick_params(axis='y', pad=0.5)
    for s in ax.spines.values():
        s.set_linewidth(1.5)
        s.set_color('#333333')
    ax.set_xlabel('Geographic distance (800 km)', fontsize=22, fontweight='bold', color='#111111')
    ax.xaxis.set_label_coords(0.5 + 5.5 / (right - left), -0.09)
    ax.set_ylabel('Bray-Curtis similarity', fontsize=21.7, fontweight='bold', color='#111111')
    ax.yaxis.set_label_coords(-0.096, 0.497)
    fig.text(letra_pos[0] / W, 1 - letra_pos[1] / H, letra, fontsize=26, fontweight='bold', color='#111111', va='center')
    return ax


fig = plt.figure(figsize=(W / 100, H / 100), dpi=100)
painel((92, 58, 527, 494), (13, 28), letras[0], a_cols_x, a_cols_y, a_band_x, a_band_lo, a_band_hi, a_zero_lo, a_zero_hi, a_line)
painel((622, 58, 1056, 494), (553, 28), letras[1], b_cols_x, b_cols_y, b_band_x, b_band_lo, b_band_hi, b_zero_lo, b_zero_hi, b_line)
painel((92, 605, 527, 1040), (10, 581), letras[2], c_cols_x, c_cols_y, c_band_x, c_band_lo, c_band_hi, c_zero_lo, c_zero_hi, c_line)
painel((622, 605, 1058, 1040), (553, 581), letras[3], d_cols_x, d_cols_y, d_band_x, d_band_lo, d_band_hi, d_zero_lo, d_zero_hi, d_line)

fig.savefig('out.png', dpi=100)
